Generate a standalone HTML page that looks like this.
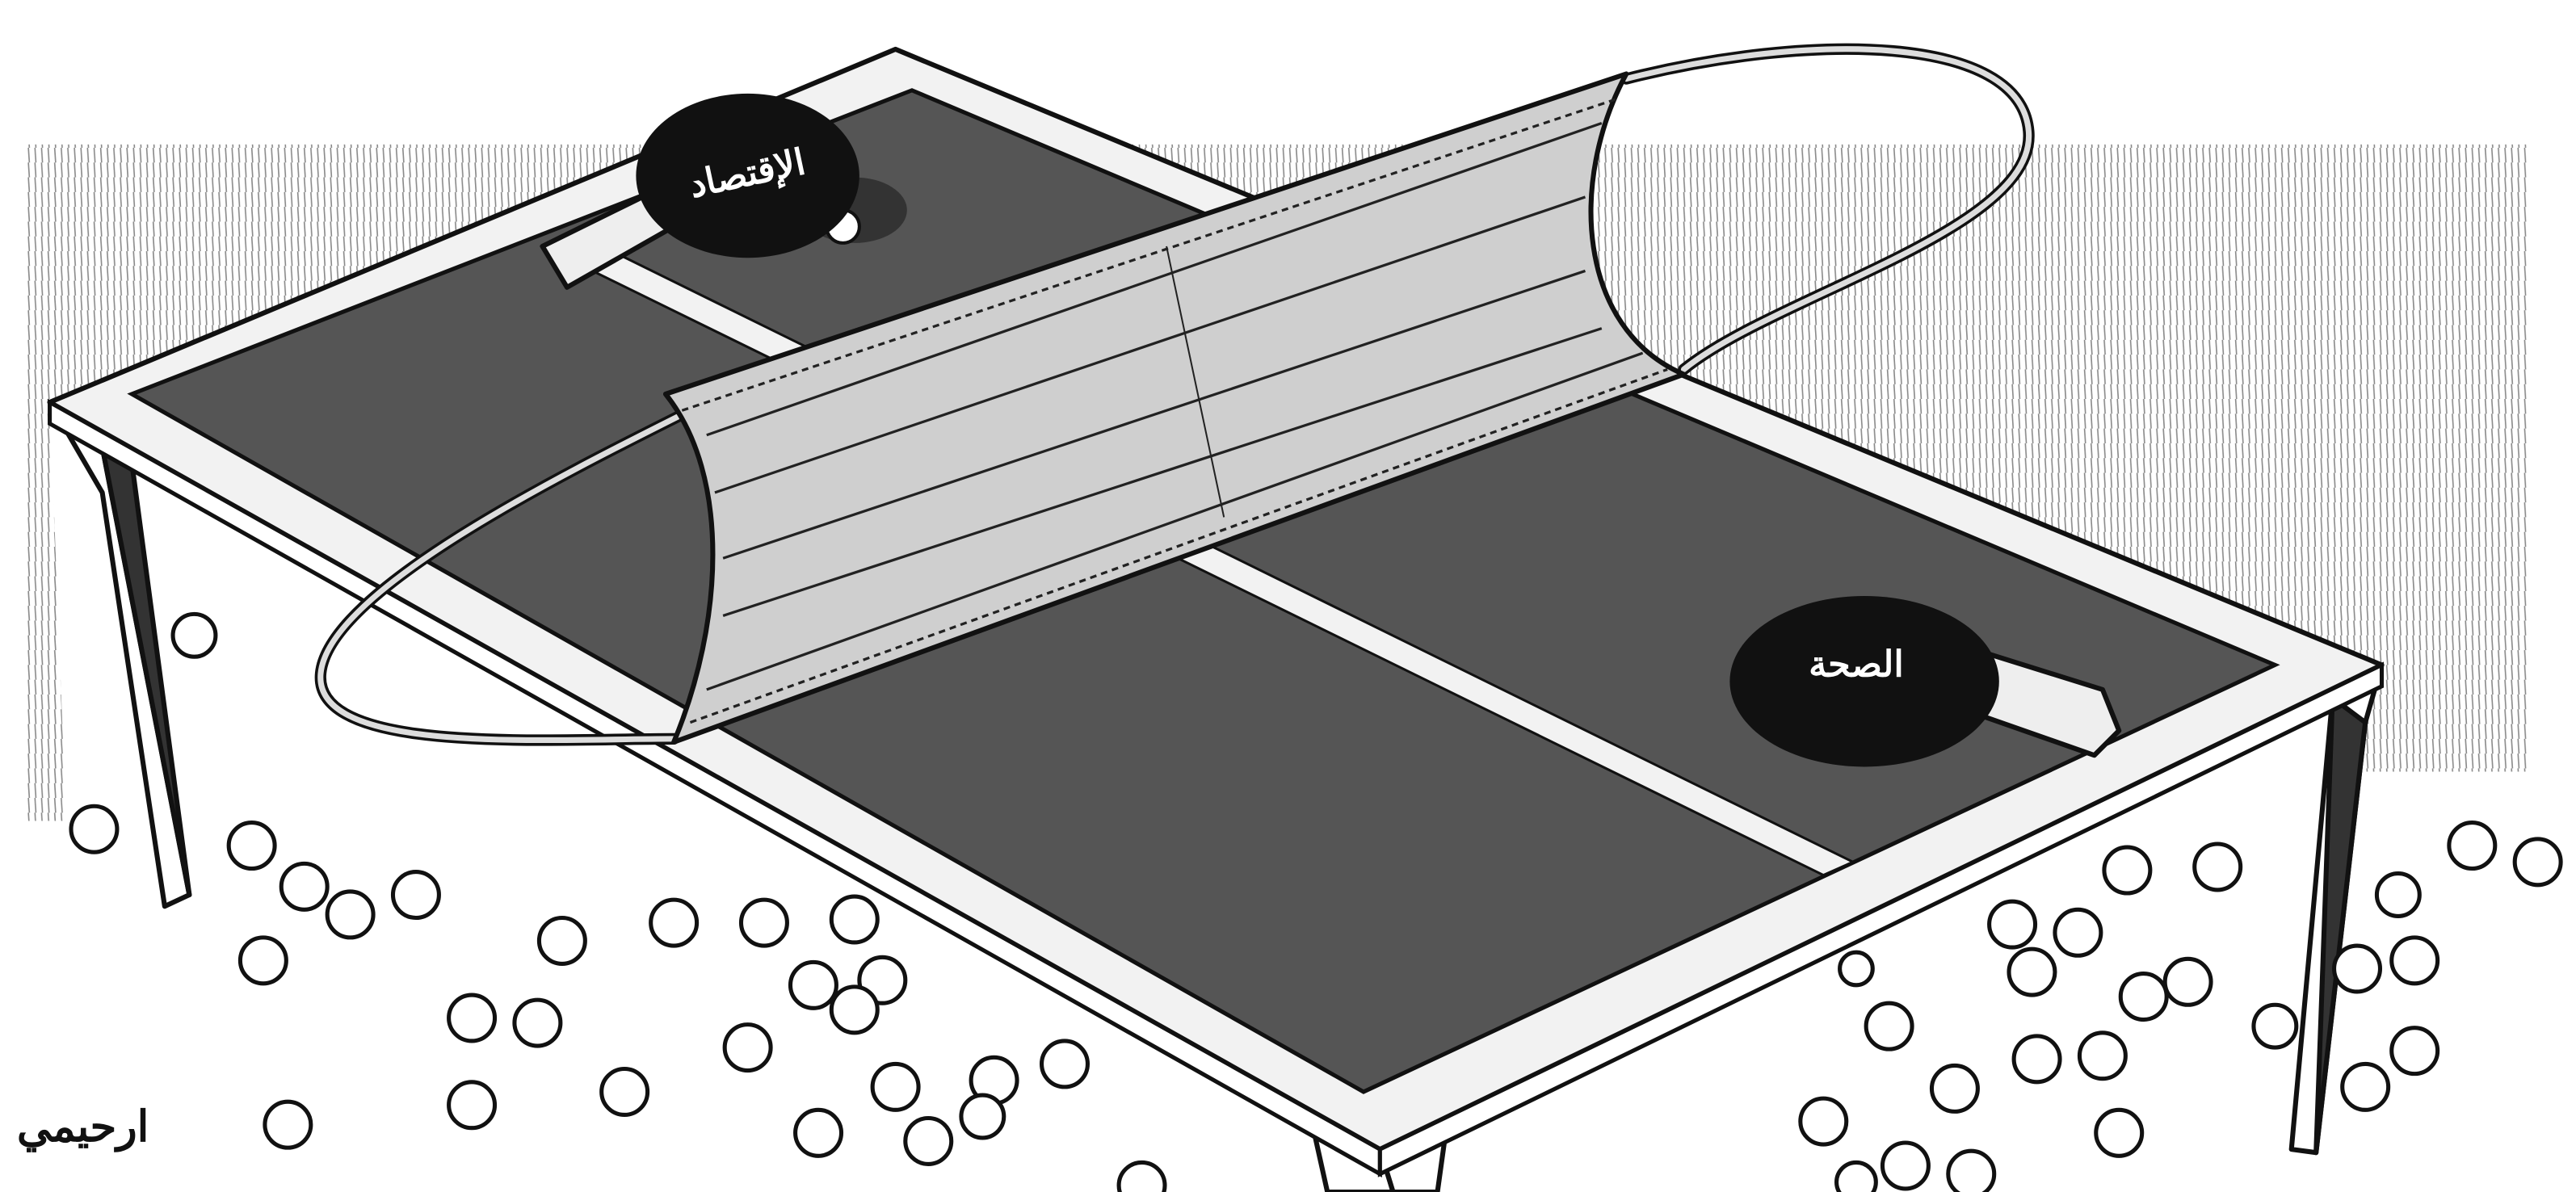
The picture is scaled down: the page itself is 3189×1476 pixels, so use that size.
<!DOCTYPE html>
<html><head><meta charset="utf-8"><style>
html,body{margin:0;padding:0;background:#fff;}
svg{display:block;}
</style></head><body>
<svg width="3189" height="1476" viewBox="0 0 1568 726" xmlns="http://www.w3.org/2000/svg">
<defs>
<pattern id="h" width="4" height="9" patternUnits="userSpaceOnUse">
<rect width="4" height="9" fill="#fff"/>
<line x1="1" y1="0" x2="1.6" y2="9" stroke="#8a8a8a" stroke-width="0.8"/>
</pattern>
</defs>
<rect width="1568" height="726" fill="#fff"/>
<path d="M15 88 L1540 88 L1540 470 L1420 470 L1450 405 L545 30 L30 245 L40 500 L15 500 Z" fill="url(#h)"/>
<g fill="#fff" stroke="#111" stroke-width="3" stroke-linejoin="round">
<path d="M30 245 L60 262 L115 545 L100 552 L62 300 Z"/>
<path d="M60 262 L80 282 L115 545 Z" fill="#333"/>
<path d="M1450 405 L1420 425 L1395 700 L1410 702 L1440 440 Z"/>
<path d="M1420 425 L1440 440 L1410 702 Z" fill="#333"/>
<path d="M800 690 L840 700 L848 726 L808 726 Z"/>
<path d="M840 700 L880 690 L875 726 L848 726 Z"/>
</g>
<path d="M545 30 L1450 405 L840 700 L30 245 Z" fill="#f2f2f2" stroke="#111" stroke-width="3" stroke-linejoin="round"/>
<path d="M30 245 L840 700 L840 715 L30 258 Z" fill="#fff" stroke="#111" stroke-width="2.5"/>
<path d="M840 700 L1450 405 L1450 418 L840 715 Z" fill="#fff" stroke="#111" stroke-width="2.5"/>
<path d="M555 55 L1385 405 L830 665 L80 240 Z" fill="#555" stroke="#111" stroke-width="2.5"/>
<path d="M330 150 L1110 533 L1128 525 L350 142 Z" fill="#f2f2f2" stroke="#111" stroke-width="1.5"/>
<g fill="none" stroke="#111" stroke-width="7" stroke-linecap="round">
<path d="M990 48 C1100 20 1230 20 1235 80 C1240 140 1080 180 1025 225"/>
<path d="M420 250 C340 290 200 360 195 410 C190 460 330 450 410 450"/>
</g>
<g fill="none" stroke="#ddd" stroke-width="3.5" stroke-linecap="round">
<path d="M990 48 C1100 20 1230 20 1235 80 C1240 140 1080 180 1025 225"/>
<path d="M420 250 C340 290 200 360 195 410 C190 460 330 450 410 450"/>
</g>
<path d="M405 240 L990 45 C955 110 960 200 1025 228 L410 452 C440 380 445 290 405 240 Z" fill="#cfcfcf" stroke="#111" stroke-width="3" stroke-linejoin="round"/>
<g stroke="#222" stroke-width="1.6" fill="none">
<path d="M430 265 L975 75"/><path d="M435 300 L965 120"/><path d="M440 340 L965 165"/><path d="M440 375 L975 200"/><path d="M430 420 L1000 215"/>
<path d="M415 250 L985 60" stroke-dasharray="4 3"/><path d="M420 440 L1015 225" stroke-dasharray="4 3"/>
<path d="M710 150 L745 315" stroke-width="1"/>
</g>
<path d="M330 150 L395 118 L410 138 L345 175 Z" fill="#eee" stroke="#111" stroke-width="3" stroke-linejoin="round"/>
<ellipse cx="520" cy="128" rx="32" ry="20" fill="#333"/>
<circle cx="513" cy="138" r="10" fill="#fff" stroke="#111" stroke-width="2"/>
<ellipse cx="455" cy="107" rx="68" ry="50" fill="#111"/>
<text x="455" y="113" font-family="Liberation Sans, 'Noto Sans CJK SC', sans-serif" font-size="22" font-weight="bold" fill="#fff" text-anchor="middle" transform="rotate(-12 455 107)">الإقتصاد</text>
<path d="M1200 395 L1280 420 L1290 445 L1275 460 L1195 432 Z" fill="#eee" stroke="#111" stroke-width="3" stroke-linejoin="round"/>
<ellipse cx="1135" cy="415" rx="82" ry="52" fill="#111"/>
<text x="1130" y="412" font-family="Liberation Sans, 'Noto Sans CJK SC', sans-serif" font-size="22" font-weight="bold" fill="#fff" text-anchor="middle">الصحة</text>
<g fill="#fff" stroke="#111" stroke-width="2.5">
<circle cx="118" cy="387" r="13"/><circle cx="57" cy="505" r="14"/><circle cx="153" cy="515" r="14"/><circle cx="185" cy="540" r="14"/><circle cx="213" cy="557" r="14"/><circle cx="253" cy="545" r="14"/><circle cx="160" cy="585" r="14"/><circle cx="342" cy="573" r="14"/><circle cx="410" cy="562" r="14"/><circle cx="465" cy="562" r="14"/><circle cx="520" cy="560" r="14"/><circle cx="495" cy="600" r="14"/><circle cx="537" cy="597" r="14"/><circle cx="520" cy="615" r="14"/><circle cx="287" cy="620" r="14"/><circle cx="327" cy="623" r="14"/><circle cx="455" cy="638" r="14"/><circle cx="545" cy="662" r="14"/><circle cx="605" cy="658" r="14"/><circle cx="648" cy="648" r="14"/><circle cx="380" cy="665" r="14"/><circle cx="287" cy="673" r="14"/><circle cx="175" cy="685" r="14"/><circle cx="498" cy="690" r="14"/><circle cx="565" cy="695" r="14"/><circle cx="598" cy="680" r="13"/><circle cx="695" cy="722" r="14"/>
<circle cx="1225" cy="563" r="14"/><circle cx="1265" cy="568" r="14"/><circle cx="1295" cy="530" r="14"/><circle cx="1350" cy="528" r="14"/><circle cx="1237" cy="592" r="14"/><circle cx="1305" cy="607" r="14"/><circle cx="1332" cy="598" r="14"/><circle cx="1150" cy="625" r="14"/><circle cx="1240" cy="645" r="14"/><circle cx="1280" cy="643" r="14"/><circle cx="1190" cy="663" r="14"/><circle cx="1110" cy="683" r="14"/><circle cx="1160" cy="710" r="14"/><circle cx="1200" cy="715" r="14"/><circle cx="1290" cy="690" r="14"/><circle cx="1435" cy="590" r="14"/><circle cx="1470" cy="585" r="14"/><circle cx="1385" cy="625" r="13"/><circle cx="1470" cy="640" r="14"/><circle cx="1440" cy="662" r="14"/><circle cx="1505" cy="515" r="14"/><circle cx="1545" cy="525" r="14"/><circle cx="1460" cy="545" r="13"/><circle cx="1130" cy="590" r="10"/><circle cx="1130" cy="720" r="12"/>
</g>
<text x="10" y="695" font-family="Liberation Sans, 'Noto Sans CJK SC', sans-serif" font-size="26" font-weight="bold" fill="#111">ارحيمي</text>
</svg>
</body></html>
